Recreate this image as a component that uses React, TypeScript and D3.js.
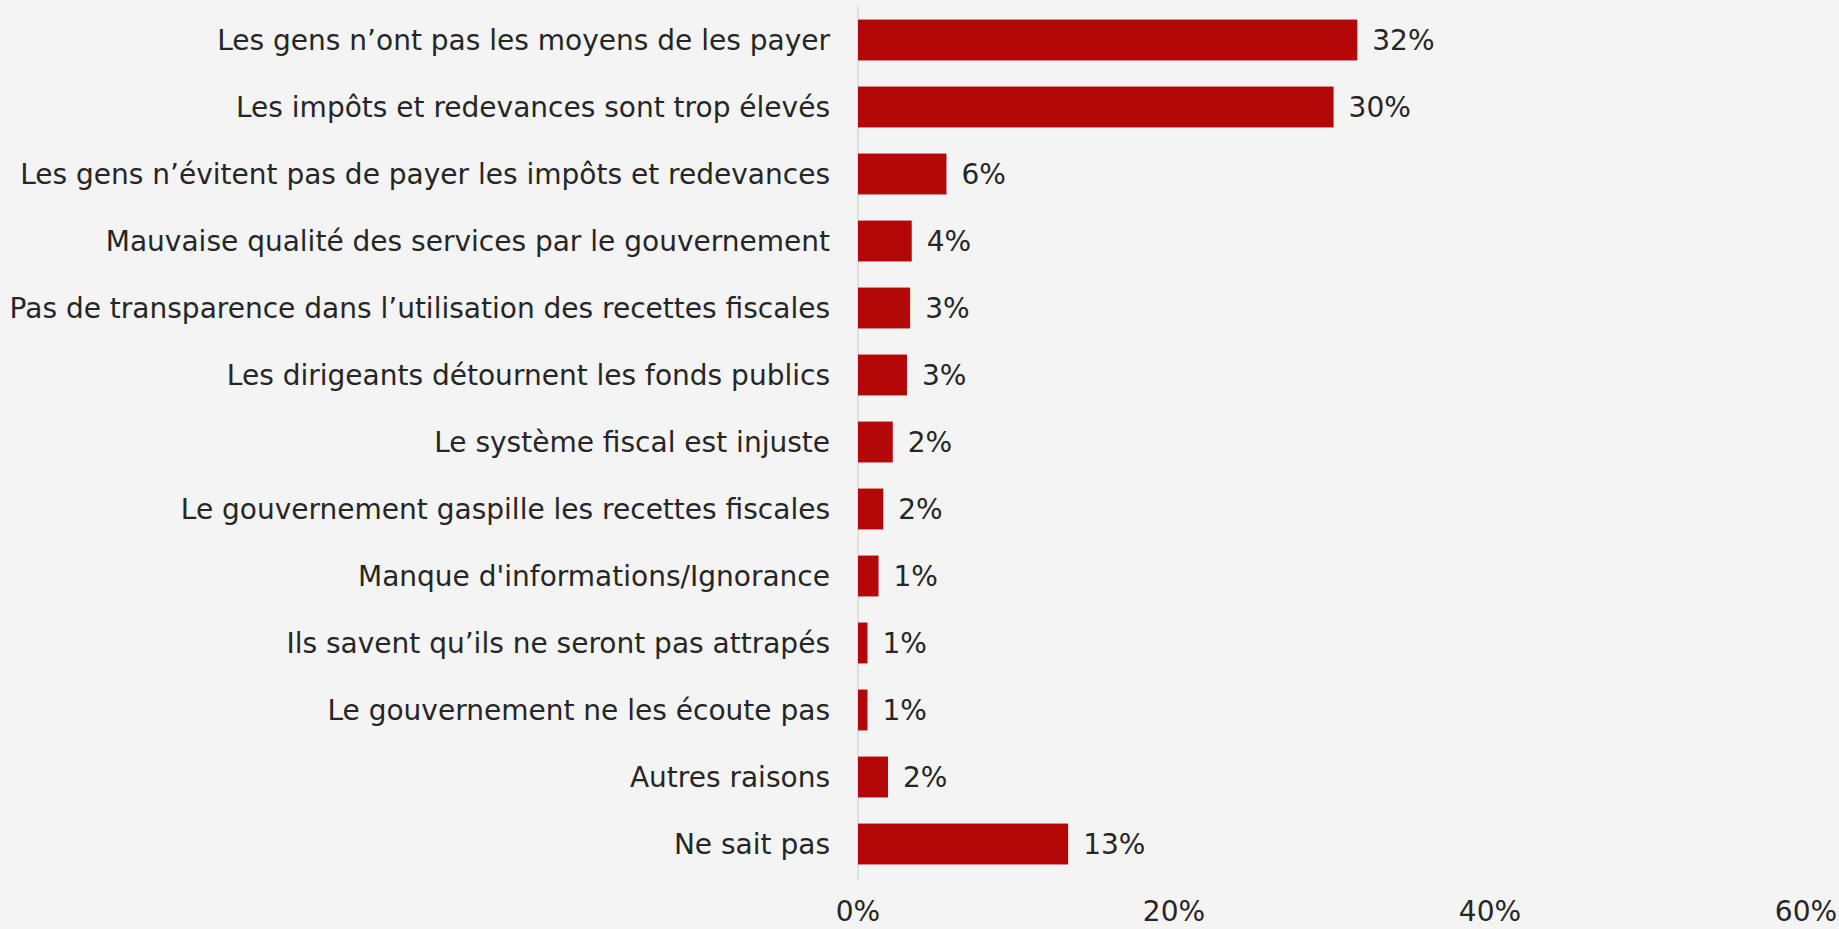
import { useEffect, useRef } from "react";
import * as d3 from "d3";

const categories = [
  "Les gens n’ont pas les moyens de les payer",
  "Les impôts et redevances sont trop élevés",
  "Les gens n’évitent pas de payer les impôts et redevances",
  "Mauvaise qualité des services par le gouvernement",
  "Pas de transparence dans l’utilisation des recettes fiscales",
  "Les dirigeants détournent les fonds publics",
  "Le système fiscal est injuste",
  "Le gouvernement gaspille les recettes fiscales",
  "Manque d'informations/Ignorance",
  "Ils savent qu’ils ne seront pas attrapés",
  "Le gouvernement ne les écoute pas",
  "Autres raisons",
  "Ne sait pas",
];
const values = [31.6, 30.1, 5.6, 3.4, 3.3, 3.1, 2.2, 1.6, 1.3, 0.6, 0.6, 1.9, 13.3];
const valueLabels = ["32%", "30%", "6%", "4%", "3%", "3%", "2%", "2%", "1%", "1%", "1%", "2%", "13%"];
const ticks = [0, 20, 40, 60];

const W = 1839;
const H = 929;

export default function App() {
  const ref = useRef<SVGSVGElement>(null);

  useEffect(() => {
    const svg = d3.select(ref.current);
    svg.selectAll("*").remove();

    const font = "'DejaVu Sans', sans-serif";

    svg.append("rect").attr("width", W).attr("height", H).attr("fill", "#f4f4f4");

    const x = d3.scaleLinear().domain([0, 60]).range([858, 1806]);
    const y = d3
      .scaleBand<string>()
      .domain(categories)
      .range([6.5, 877.5])
      .paddingInner(0.39)
      .paddingOuter(0.195);

    // taille de police ajustée sur le libellé le plus long (~821px dans l'original)
    const probe = svg
      .append("text")
      .attr("font-family", font)
      .attr("font-size", 27)
      .text(categories[4]);
    const len = (probe.node() as SVGTextElement).getComputedTextLength();
    probe.remove();
    const fs = Math.min(30, (27 * 821) / len);

    // axe vertical
    svg
      .append("line")
      .attr("x1", x(0))
      .attr("x2", x(0))
      .attr("y1", 6)
      .attr("y2", 880)
      .attr("stroke", "#d9d9d9")
      .attr("stroke-width", 1.5);

    const rows = svg.append("g").selectAll("g").data(categories).join("g");

    rows
      .append("rect")
      .attr("x", x(0))
      .attr("y", (d) => y(d)!)
      .attr("width", (d, i) => x(values[i]) - x(0))
      .attr("height", y.bandwidth())
      .attr("fill", "#b40808");

    rows
      .append("text")
      .attr("x", x(0) - 28)
      .attr("y", (d) => y(d)! + y.bandwidth() / 2)
      .attr("dy", "0.35em")
      .attr("text-anchor", "end")
      .attr("font-family", font)
      .attr("font-size", fs)
      .attr("fill", "#262626")
      .text((d) => d);

    rows
      .append("text")
      .attr("x", (d, i) => x(values[i]) + 15)
      .attr("y", (d) => y(d)! + y.bandwidth() / 2)
      .attr("dy", "0.35em")
      .attr("font-family", font)
      .attr("font-size", fs)
      .attr("fill", "#262626")
      .text((d, i) => valueLabels[i]);

    // graduations
    svg
      .append("g")
      .selectAll("text")
      .data(ticks)
      .join("text")
      .attr("x", (d) => x(d))
      .attr("y", 911)
      .attr("dy", "0.35em")
      .attr("text-anchor", "middle")
      .attr("font-family", font)
      .attr("font-size", fs)
      .attr("fill", "#262626")
      .text((d) => d + "%");
  }, []);

  return (
    <div style={{ position: "absolute", left: 0, top: 0 }}>
      <svg ref={ref} width={W} height={H} style={{ display: "block" }}></svg>
    </div>
  );
}
